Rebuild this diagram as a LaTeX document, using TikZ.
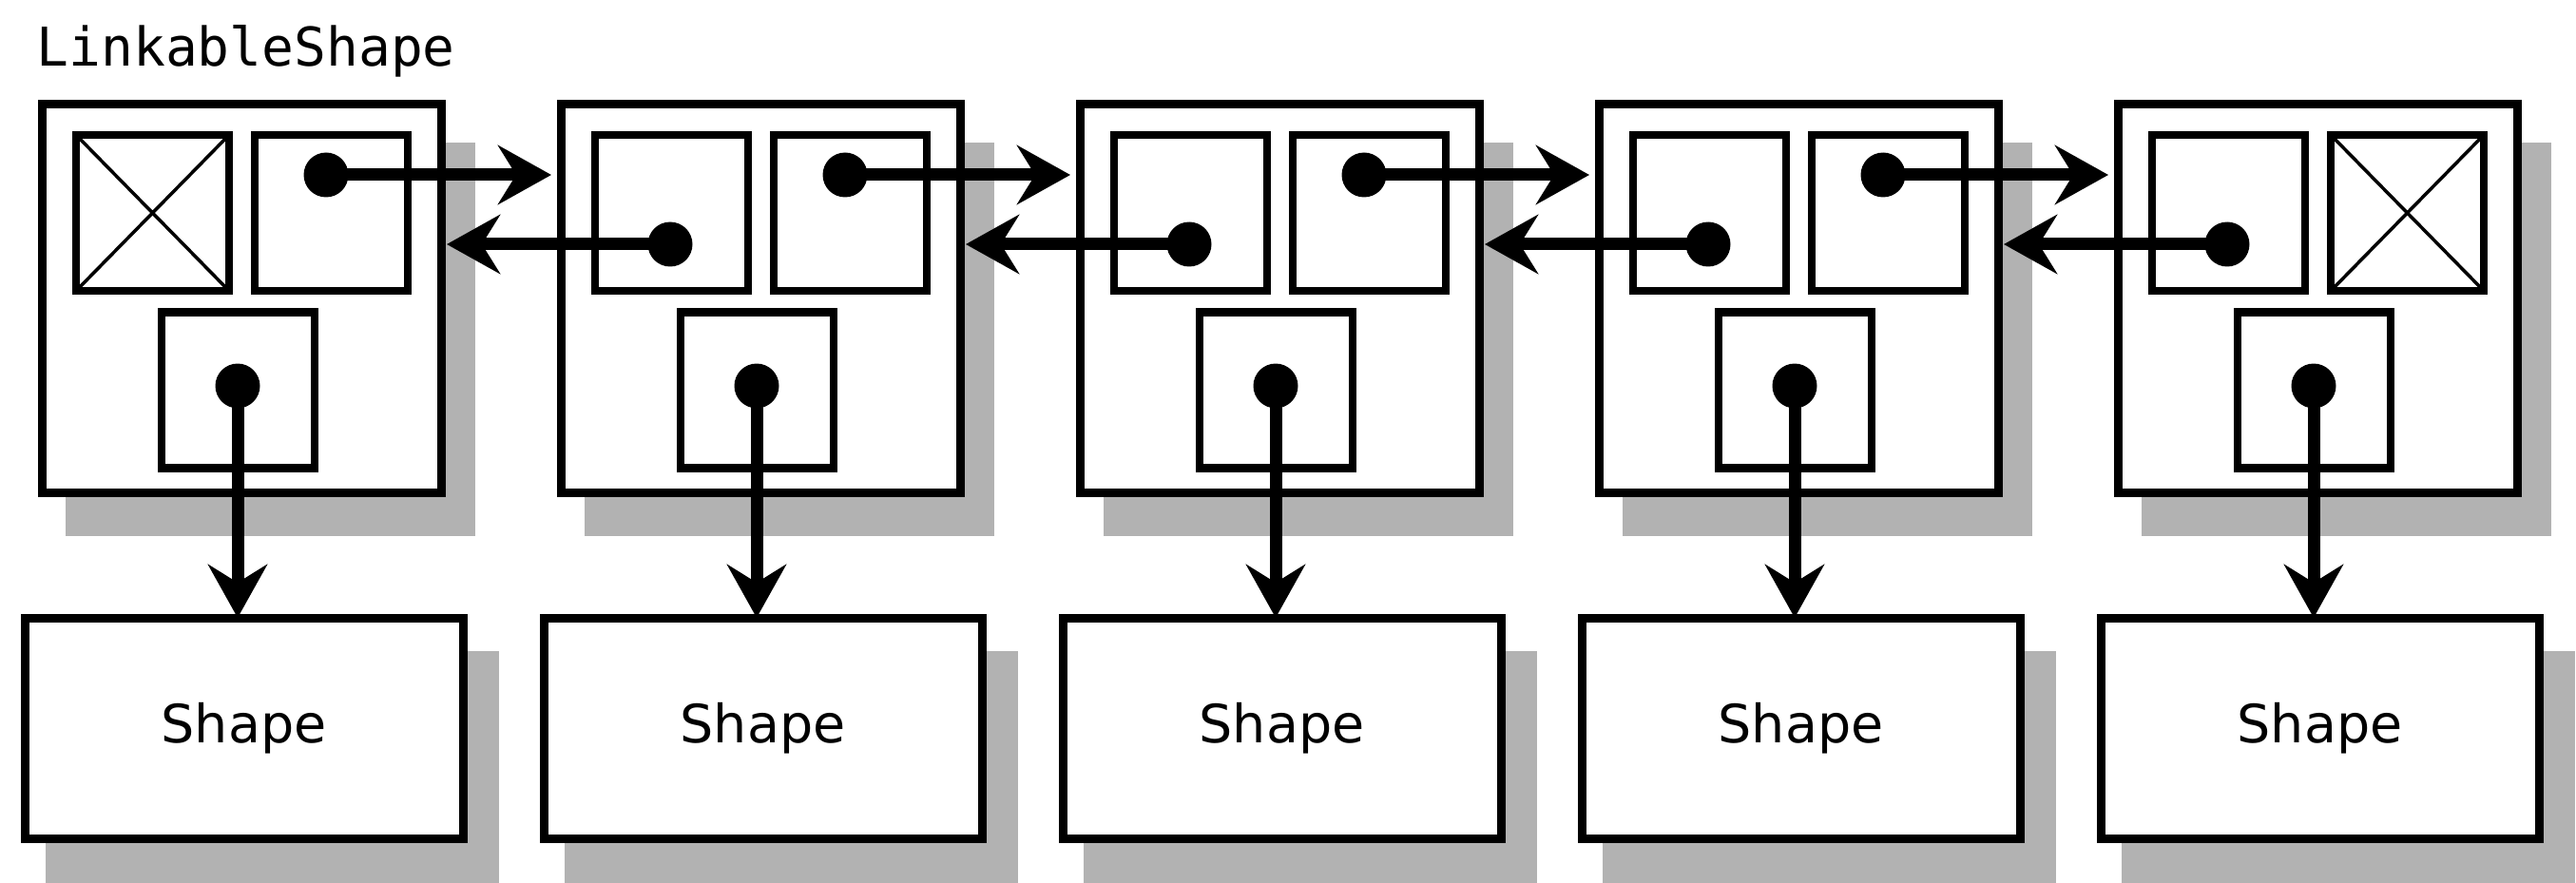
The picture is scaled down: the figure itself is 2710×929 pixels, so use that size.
\documentclass[tikz,border=0pt]{standalone}
\usepackage{fontspec}
\newfontfamily\monofont{DejaVu Sans Mono}
\newfontfamily\labelfont{DejaVu Sans}
\usetikzlibrary{arrows.meta}
\begin{document}
\begin{tikzpicture}[x=0.1mm,y=-0.1mm,
  shadowbox/.style={fill=black!30, draw=none},
  outerbox/.style={draw, line width=0.9mm, fill=white, minimum width=42mm, minimum height=40.9mm, inner sep=0, outer sep=0},
  cellbox/.style={draw, line width=0.85mm, fill=white, minimum width=16.1mm, minimum height=16.4mm, inner sep=0, outer sep=0},
  shapebox/.style={draw, line width=0.9mm, fill=white, minimum width=46.1mm, minimum height=23.2mm, inner sep=0, outer sep=0, font=\labelfont\fontsize{15.8}{18}\selectfont},
  dot/.style={circle, fill=black, inner sep=0, minimum size=4.7mm},
  ptr/.style={line width=1.3mm, -{Stealth[length=5.6mm, width=6.2mm, inset=1.9mm]}},
  crossline/.style={line width=0.35mm},
]
\useasboundingbox (0,0) rectangle (2710,929);
\node[anchor=base west, inner sep=0, font=\monofont\fontsize{16}{19}\selectfont] (title) at (38,70) {LinkableShape};
\foreach \i in {0,...,4}{
  \pgfmathsetmacro\L{44+546*\i}
  \fill[shadowbox] (\L+25,150) rectangle (\L+456,564);
  \fill[shadowbox] (\L+4,685) rectangle (\L+481,929);
  \node[outerbox] (outer\i) at (\L+210,314.5) {};
  \node[cellbox] (tl\i) at (\L+116.5,224) {};
  \node[cellbox] (tr\i) at (\L+304.5,224) {};
  \node[cellbox] (bt\i) at (\L+206.5,410.5) {};
  \node[shapebox] (sh\i) at (\L+212.5,766) {Shape};
  \node[dot] (db\i) at (\L+206,406) {};
}
\foreach \i in {0,...,3}{
  \pgfmathsetmacro\L{44+546*\i}
  \node[dot] (dr\i) at (\L+299,184) {};
}
\foreach \i in {1,...,4}{
  \pgfmathsetmacro\L{44+546*\i}
  \node[dot] (dl\i) at (\L+115,257) {};
}
\draw[crossline] (tl0.north west) -- (tl0.south east) (tl0.north east) -- (tl0.south west);
\draw[crossline] (tr4.north west) -- (tr4.south east) (tr4.north east) -- (tr4.south west);
\foreach \i/\j in {0/1,1/2,2/3,3/4}{
  \draw[ptr, shorten >=1mm] (dr\i.center) -- (dr\i.center -| outer\j.west);
  \draw[ptr] (dl\j.center) -- ([xshift=0.6mm]dl\j.center -| outer\i.east);
}
\foreach \i in {0,...,4}{
  \draw[ptr] (db\i.center) -- (db\i.center |- sh\i.north);
}
\end{tikzpicture}
\end{document}
